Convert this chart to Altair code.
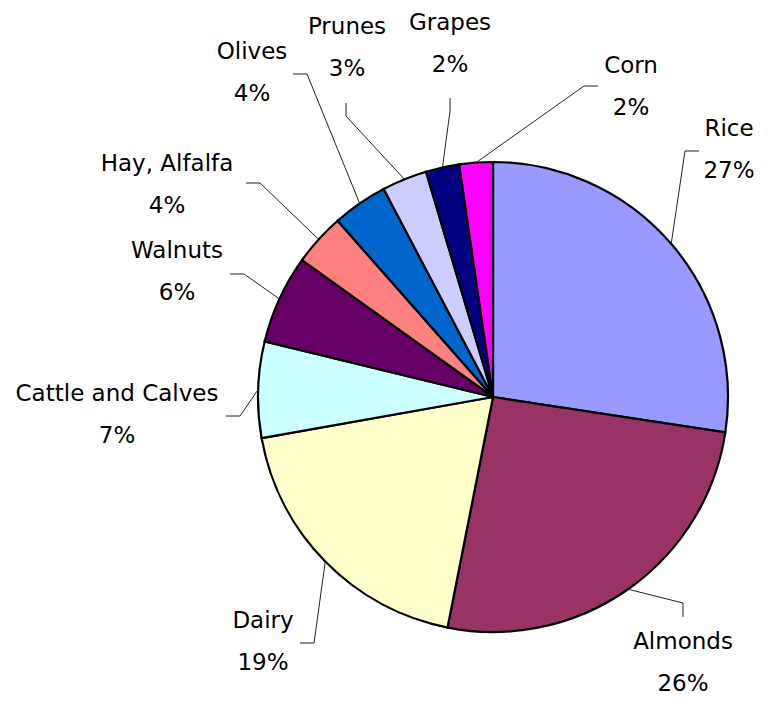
import altair as alt
import pandas as pd
import numpy as np

# ---- data ----
categories = ["Rice", "Almonds", "Dairy", "Cattle and Calves", "Walnuts",
              "Hay, Alfalfa", "Olives", "Prunes", "Grapes", "Corn"]
values = [27.4, 25.7, 19.1, 6.6, 6.1, 3.6, 3.8, 3.1, 2.3, 2.3]
colors = ["#9999FF", "#993366", "#FFFFCC", "#CCFFFF", "#660066",
          "#FF8080", "#0066CC", "#CCCCFF", "#000080", "#FF00FF"]

# ---- layout (pixels relative to the pie centre, y pointing down) ----
label_centre = [(236, -247), (190, 266), (-230, 245), (-376, 18), (-316, -125),
                (-326, -212), (-241, -324), (-146, -349), (-43, -353), (138, -310)]
leader_end = [(206, -246), (190, 220), (-193, 246), (-267, 19), (-263, -123),
              (-247, -214), (-200, -323), (-147, -294), (-43, -299), (105, -311)]
leader_side = ["left", "top", "right", "right", "right",
               "right", "right", "bottom", "bottom", "left"]

R = 235
W, H = 751, 692
CX, CY = 485, 389
LH = 42

xscale = alt.Scale(domain=[-CX, W - CX], range=[0, W], nice=False, zero=False)
yscale = alt.Scale(domain=[-CY, H - CY], range=[0, H], nice=False, zero=False)

total = sum(values)
df = pd.DataFrame({"cat": categories, "value": values, "idx": range(len(values))})
df["text"] = [f"{c}\n{round(v / total * 100)}%" for c, v in zip(categories, values)]
df["lx"] = [p[0] for p in label_centre]
df["ly"] = [p[1] for p in label_centre]

# leader lines: edge point at mid angle -> elbow -> end
cum = np.cumsum([0] + values[:-1])
rows = []
for i, c in enumerate(categories):
    mid = (cum[i] + values[i] / 2) / total * 2 * np.pi
    sx, sy = R * np.sin(mid), -R * np.cos(mid)
    ex, ey = leader_end[i]
    side = leader_side[i]
    if side == "left":
        bx, by = ex - 14, ey
    elif side == "right":
        bx, by = ex + 14, ey
    elif side == "bottom":
        bx, by = ex, ey + 13
    else:
        bx, by = ex, ey - 14
    for k, (px, py) in enumerate([(sx, sy), (bx, by), (ex, ey)]):
        rows.append({"cat": c, "k": k, "x": px, "y": py})
lines = pd.DataFrame(rows)

pie = alt.Chart(df).mark_arc(outerRadius=R, stroke="black", strokeWidth=2.2).encode(
    theta=alt.Theta("value:Q", stack=True),
    color=alt.Color("cat:N", scale=alt.Scale(domain=categories, range=colors), legend=None),
    order=alt.Order("idx:Q", sort="ascending"),
    x=alt.X(datum=0, scale=xscale, axis=None),
    y=alt.Y(datum=0, scale=yscale, axis=None),
)

leaders = alt.Chart(lines).mark_line(color="#222222", strokeWidth=1).encode(
    x=alt.X("x:Q", scale=xscale, axis=None),
    y=alt.Y("y:Q", scale=yscale, axis=None),
    detail="cat:N",
    order="k:Q",
)

labels = alt.Chart(df).mark_text(
    font="DejaVu Sans", fontSize=23, lineBreak="\n", lineHeight=LH, dy=-LH / 2,
    align="center", baseline="middle", color="black"
).encode(
    x=alt.X("lx:Q", scale=xscale, axis=None),
    y=alt.Y("ly:Q", scale=yscale, axis=None),
    text="text:N",
)

chart = alt.layer(pie, leaders, labels).properties(
    width=W, height=H, padding=0, autosize=alt.AutoSizeParams(type="none")
).configure_view(stroke=None)

chart.save("out.html", embed_options={"renderer": "svg", "actions": False})
